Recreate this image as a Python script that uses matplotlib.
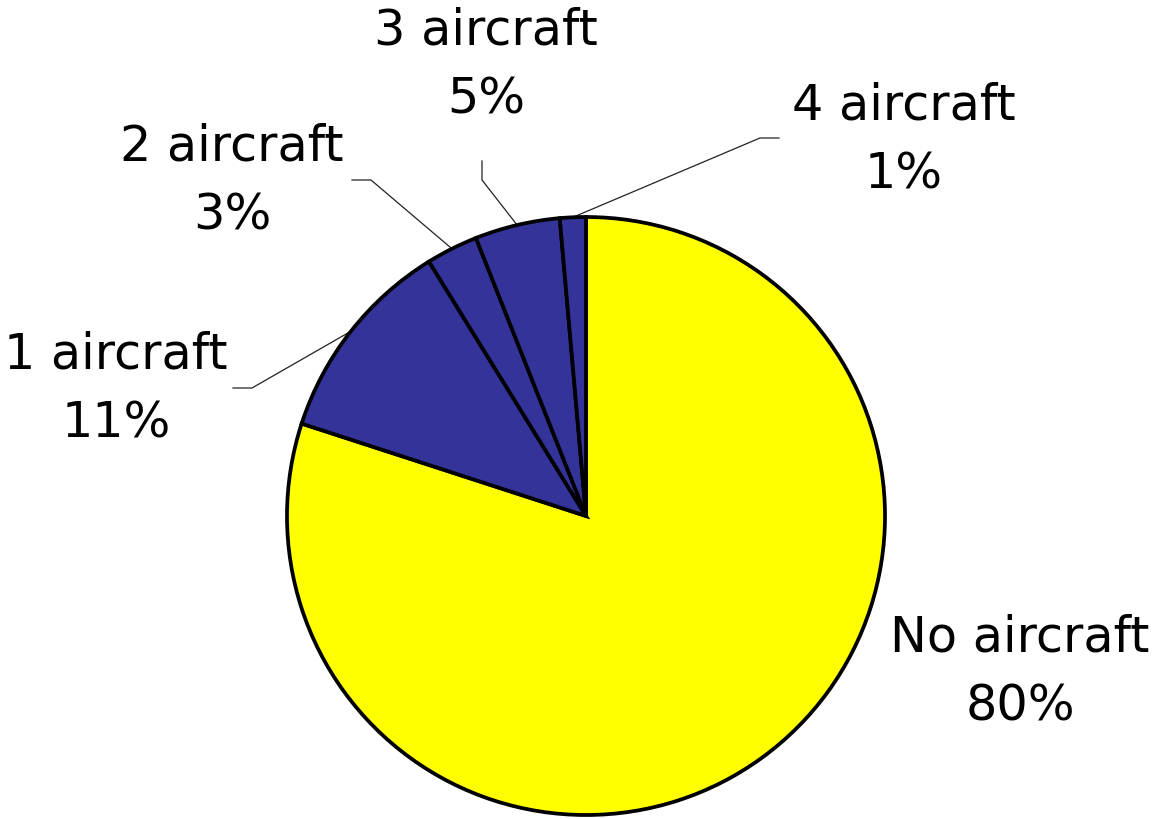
import numpy as np
import matplotlib
matplotlib.use("Agg")
import matplotlib.pyplot as plt

# Data
categories = ["No aircraft", "1 aircraft", "2 aircraft", "3 aircraft", "4 aircraft"]
shares = [80.0, 11.2, 2.8, 4.6, 1.4]
colors = ["#FFFF00", "#333399", "#333399", "#333399", "#333399"]

W, H = 1153, 819
fig = plt.figure(figsize=(W / 100, H / 100), dpi=100)
ax = fig.add_axes([0, 0, 1, 1])

cx, cy, r = 586, H - 516, 299
wedges, _ = ax.pie(shares, colors=colors, startangle=90, counterclock=False,
                   center=(cx, cy), radius=r, frame=True,
                   wedgeprops=dict(edgecolor="black", linewidth=2.7))
ax.set_xlim(0, W)
ax.set_ylim(0, H)
ax.set_aspect("equal")
ax.axis("off")

# label layout (pixel positions from top-left): text centre, elbow, leader end
layout = {
    "No aircraft": dict(text=(1020, 672), leader=None),
    "1 aircraft": dict(text=(116, 389), leader=[(252, 388), (233, 388)]),
    "2 aircraft": dict(text=(232, 181), leader=[(371, 180), (352, 180)]),
    "3 aircraft": dict(text=(486, 65), leader=[(482, 180), (482, 161)]),
    "4 aircraft": dict(text=(904, 140), leader=[(760, 138), (779, 138)]),
}

for w, cat, val in zip(wedges, categories, shares):
    lay = layout[cat]
    tx, ty = lay["text"]
    ax.text(tx, H - ty, f"{cat}\n{val:.0f}%", ha="center", va="center",
            fontsize=35.5, linespacing=1.55, family="DejaVu Sans")
    if lay["leader"]:
        mid = np.deg2rad((w.theta1 + w.theta2) / 2)
        sx, sy = cx + r * np.cos(mid), cy + r * np.sin(mid)
        xs = [sx] + [p[0] for p in lay["leader"]]
        ys = [sy] + [H - p[1] for p in lay["leader"]]
        ax.plot(xs, ys, color="#222222", linewidth=0.9, zorder=0)

fig.savefig("out.png", dpi=100)
